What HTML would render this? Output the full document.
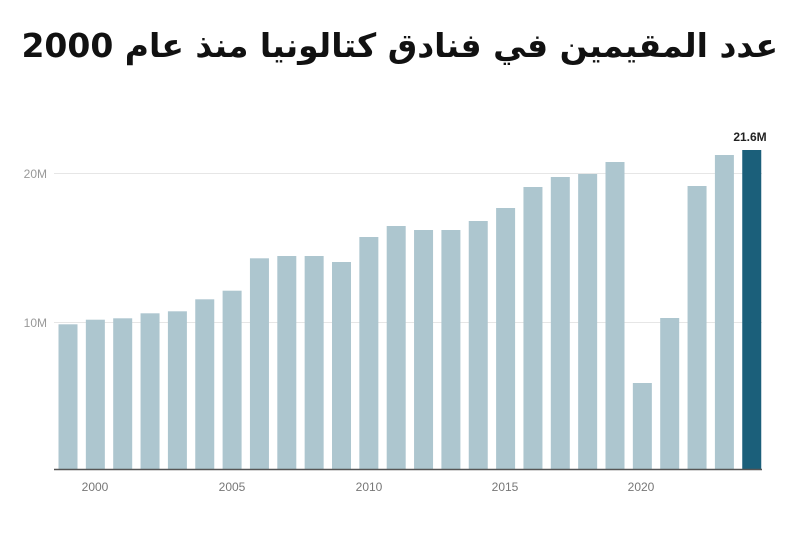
<!DOCTYPE html>
<html><head><meta charset="utf-8"><style>
body{margin:0;background:#fff;width:800px;height:533px;overflow:hidden;position:relative}
.t{position:absolute;right:22px;top:22px;width:770px;text-align:right;direction:rtl;font-family:"DejaVu Sans",sans-serif;font-weight:bold;font-size:33px;color:#111;white-space:nowrap;line-height:48px}
svg{position:absolute;left:0;top:0}
</style></head><body>
<div class="t">عدد المقيمين في فنادق كتالونيا منذ عام 2000</div>
<svg width="800" height="533" xmlns="http://www.w3.org/2000/svg">
<g font-family="'Liberation Sans',sans-serif" font-size="12" fill="#999">
<line x1="54" y1="173.5" x2="762" y2="173.5" stroke="#e6e6e6"/>
<line x1="54" y1="322.5" x2="762" y2="322.5" stroke="#e6e6e6"/>
<text x="47" y="178" text-anchor="end">20M</text>
<text x="47" y="327" text-anchor="end">10M</text>
</g>
<g fill="#adc6cf">
<rect x="58.5" y="324.3" width="19" height="144.7"/>
<rect x="85.85" y="319.7" width="19" height="149.3"/>
<rect x="113.2" y="318.3" width="19" height="150.7"/>
<rect x="140.55" y="313.3" width="19" height="155.7"/>
<rect x="167.9" y="311.3" width="19" height="157.7"/>
<rect x="195.25" y="299.3" width="19" height="169.7"/>
<rect x="222.6" y="290.7" width="19" height="178.3"/>
<rect x="249.95" y="258.3" width="19" height="210.7"/>
<rect x="277.3" y="256" width="19" height="213"/>
<rect x="304.65" y="256" width="19" height="213"/>
<rect x="332" y="262" width="19" height="207"/>
<rect x="359.35" y="237" width="19" height="232"/>
<rect x="386.7" y="226" width="19" height="243"/>
<rect x="414.05" y="230" width="19" height="239"/>
<rect x="441.4" y="230" width="19" height="239"/>
<rect x="468.75" y="221" width="19" height="248"/>
<rect x="496.1" y="208" width="19" height="261"/>
<rect x="523.45" y="187" width="19" height="282"/>
<rect x="550.8" y="177" width="19" height="292"/>
<rect x="578.15" y="174" width="19" height="295"/>
<rect x="605.5" y="162" width="19" height="307"/>
<rect x="632.85" y="383" width="19" height="86"/>
<rect x="660.2" y="318" width="19" height="151"/>
<rect x="687.55" y="186" width="19" height="283"/>
<rect x="714.9" y="155" width="19" height="314"/>
<rect x="742.25" y="150" width="19" height="319" fill="#1b5f7a"/>
</g>
<line x1="54" y1="469.5" x2="762" y2="469.5" stroke="#555" stroke-width="1.5"/>
<g font-family="'Liberation Sans',sans-serif" font-size="12" fill="#777" text-anchor="middle">
<text x="95" y="491">2000</text><text x="232" y="491">2005</text><text x="369" y="491">2010</text><text x="505" y="491">2015</text><text x="641" y="491">2020</text>
</g>
<text x="750" y="141" text-anchor="middle" font-family="'Liberation Sans',sans-serif" font-weight="bold" font-size="12" fill="#222">21.6M</text>
</svg>
</body></html>
